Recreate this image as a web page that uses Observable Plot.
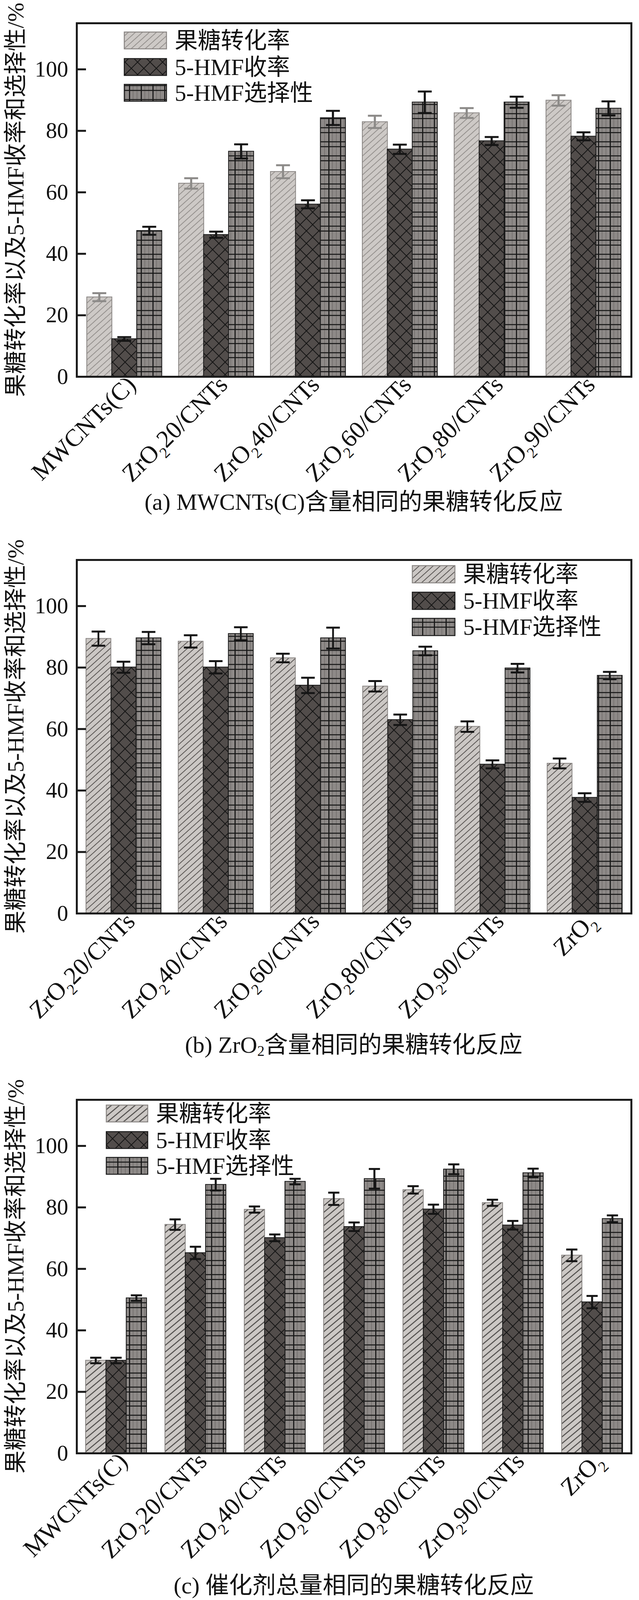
<!DOCTYPE html>
<html><head><meta charset="utf-8">
<script src="https://cdn.jsdelivr.net/npm/d3@7"></script>
<script src="https://cdn.jsdelivr.net/npm/@observablehq/plot@0.6"></script>
<style>
html,body{margin:0;background:#fff;overflow:hidden;}
#root{position:relative;width:1635px;overflow:hidden;font-family:"Liberation Serif","Noto Sans CJK SC",serif;color:#111;}
.panel{position:absolute;left:0;}
.cap{position:absolute;left:0;width:1635px;box-sizing:border-box;padding-left:175px;text-align:center;font-size:60px;line-height:66px;white-space:nowrap;}
.cap sub{font-size:0.62em;vertical-align:-0.22em;line-height:0;}
</style></head>
<body>
<svg width="0" height="0" style="position:absolute">
  <defs>
    <pattern id="convA" width="12" height="12" patternUnits="userSpaceOnUse" patternTransform="rotate(-42)">
      <rect width="12" height="12" fill="#cdc9c6"/><line x1="0" y1="6" x2="12" y2="6" stroke="#8e8a87" stroke-width="1.8"/>
    </pattern>
    <pattern id="convB" width="12" height="12" patternUnits="userSpaceOnUse" patternTransform="rotate(-42)">
      <rect width="12" height="12" fill="#cbc7c4"/><line x1="0" y1="6" x2="12" y2="6" stroke="#5a5654" stroke-width="2"/>
    </pattern>
    <pattern id="convC" width="13" height="13" patternUnits="userSpaceOnUse" patternTransform="rotate(-40)">
      <rect width="13" height="13" fill="#ccc8c5"/><line x1="0" y1="6.5" x2="13" y2="6.5" stroke="#3a3836" stroke-width="2.2"/>
    </pattern>
    <pattern id="yld" width="32" height="32" patternUnits="userSpaceOnUse">
      <rect width="32" height="32" fill="#524d4b"/>
      <path d="M0,0L32,32M32,0L0,32M-16,16L16,48M16,-16L48,16M16,48L48,16M-16,16L16,-16" stroke="#151515" stroke-width="2"/>
    </pattern>
    <pattern id="sel" width="30" height="36" patternUnits="userSpaceOnUse">
      <rect width="30" height="36" fill="#8e8a88"/>
      <line x1="10.5" y1="0" x2="10.5" y2="36" stroke="#6e6a68" stroke-width="1.5"/>
      <line x1="20.5" y1="0" x2="20.5" y2="36" stroke="#6e6a68" stroke-width="1.5"/>
      <line x1="0" y1="4" x2="30" y2="4" stroke="#161616" stroke-width="2.6"/>
      <line x1="0" y1="16.5" x2="30" y2="16.5" stroke="#161616" stroke-width="2.6"/>
      <line x1="1.5" y1="0" x2="1.5" y2="36" stroke="#161616" stroke-width="2.8"/>
    </pattern>
  </defs>
</svg>
<div id="root"></div>
<script>
// ---------- data ----------
const series = ["果糖转化率", "5-HMF收率", "5-HMF选择性"];
const yTicks = [0, 20, 40, 60, 80, 100];

const groupsA = ["MWCNTs(C)", "ZrO₂20/CNTs", "ZrO₂40/CNTs", "ZrO₂60/CNTs", "ZrO₂80/CNTs", "ZrO₂90/CNTs"];
const convA = [25.9, 62.9, 66.7, 82.9, 85.8, 89.9];
const convErrA = [1.3, 1.7, 2.1, 2.0, 1.6, 1.7];
const yieldA = [12.3, 46.2, 56.1, 74.0, 76.7, 78.2];
const yieldErrA = [0.6, 1.0, 1.3, 1.5, 1.3, 1.3];
const selA = [47.5, 73.3, 84.2, 89.3, 89.3, 87.3];
const selErrA = [1.3, 2.3, 2.3, 3.5, 1.8, 2.3];

const groupsB = ["ZrO₂20/CNTs", "ZrO₂40/CNTs", "ZrO₂60/CNTs", "ZrO₂80/CNTs", "ZrO₂90/CNTs", "ZrO₂"];
const convB = [89.4, 88.5, 83.1, 73.9, 60.8, 48.8];
const convErrB = [2.3, 2.0, 1.4, 1.7, 1.7, 1.6];
const yieldB = [80.1, 80.1, 74.2, 63.0, 48.5, 37.7];
const yieldErrB = [1.8, 2.0, 2.5, 1.7, 1.3, 1.4];
const selB = [89.6, 91.0, 89.6, 85.4, 79.8, 77.4];
const selErrB = [2.0, 2.1, 3.4, 1.4, 1.4, 1.2];

const groupsC = ["MWCNTs(C)", "ZrO₂20/CNTs", "ZrO₂40/CNTs", "ZrO₂60/CNTs", "ZrO₂80/CNTs", "ZrO₂90/CNTs", "ZrO₂"];
const convC = [30.2, 74.4, 79.3, 82.8, 85.7, 81.5, 64.4];
const convErrC = [0.9, 1.7, 1.0, 2.0, 1.2, 1.0, 1.9];
const yieldC = [30.2, 65.2, 70.1, 73.7, 79.4, 74.2, 49.2];
const yieldErrC = [0.9, 2.0, 1.1, 1.4, 1.5, 1.4, 2.0];
const selC = [50.5, 87.4, 88.4, 89.3, 92.4, 91.2, 76.3];
const selErrC = [0.9, 1.9, 0.9, 3.2, 1.6, 1.4, 1.1];

const yLabel = "果糖转化率以及5-HMF收率和选择性/%";
const captions = [
  "(a) MWCNTs(C)含量相同的果糖转化反应",
  "(b) ZrO<sub>2</sub>含量相同的果糖转化反应",
  "(c) 催化剂总量相同的果糖转化反应"
];

// ---------- layout ----------
const W = 1635, H = 1300, ML = 196, MR = 20;
const REF_H = 4276;
const k = Math.min(1, (window.innerHeight || REF_H) / REF_H);   // fit the whole figure in the visible window
const FONT = '"Liberation Serif","Noto Sans CJK SC",serif';
const root = document.getElementById("root");
root.style.height = Math.round(REF_H * k) + "px";

function buildRows(groups, vals, errs) {
  const rows = [];
  vals.forEach((arr, i) => groups.forEach((g, j) => rows.push({group: g, series: series[i], i, value: arr[j], err: errs[i][j]})));
  return rows;
}

function subscriptify(textEl, shift) {
  const t = textEl.textContent;
  if (!t.includes("₂")) return;
  const parts = t.split("₂");
  const sel = d3.select(textEl);
  sel.text(null);
  sel.append("tspan").text(parts[0]);
  sel.append("tspan").attr("dy", shift).attr("font-size", "0.62em").text("2");
  sel.append("tspan").attr("dy", -shift).text(parts[1]);
}

function panel(cfg) {
  const {groups, vals, errs, frameTop, frameBottom, pi, po, convFill, errColors, legend, capCenter, caption} = cfg;
  const svgTop = Math.round(frameTop * k) - 60;
  const MT = 60;
  const MB = H - (Math.round(frameBottom * k) - svgTop);
  const rows = buildRows(groups, vals, errs);
  const band = d3.scaleBand().domain(groups).range([ML, W - MR]).paddingInner(pi).paddingOuter(po);
  const b3 = band.bandwidth() / 3;
  const fills = [convFill, "url(#yld)", "url(#sel)"];
  const strokes = ["#8a8684", "#1a1a1a", "#1a1a1a"];
  const marks = [];
  series.forEach((s, i) => {
    const d = rows.filter(r => r.i === i);
    marks.push(Plot.barY(d, {x: "group", y: "value", fill: fills[i], stroke: strokes[i], strokeWidth: 2,
      insetLeft: i * b3, insetRight: (2 - i) * b3}));
  });
  series.forEach((s, i) => {
    const d = rows.filter(r => r.i === i);
    const lw = 5, cw = b3 * 0.55;
    const li = (b3 - lw) / 2, ci = (b3 - cw) / 2;
    marks.push(Plot.barY(d, {x: "group", y1: r => r.value - r.err, y2: r => r.value + r.err, fill: errColors[i],
      insetLeft: i * b3 + li, insetRight: (2 - i) * b3 + li}));
    marks.push(Plot.tickY(d, {x: "group", y: r => r.value + r.err, stroke: errColors[i], strokeWidth: 5,
      insetLeft: i * b3 + ci, insetRight: (2 - i) * b3 + ci}));
    marks.push(Plot.tickY(d, {x: "group", y: r => r.value - r.err, stroke: errColors[i], strokeWidth: 5,
      insetLeft: i * b3 + ci, insetRight: (2 - i) * b3 + ci}));
  });
  marks.push(Plot.gridY(yTicks, {stroke: "#1a1a1a", strokeOpacity: 1, strokeWidth: 5, insetRight: (W - ML - MR) - 24}));
  marks.push(Plot.axisY({ticks: yTicks, tickSize: 0, tickPadding: 22, fontSize: 57, label: null}));
  marks.push(Plot.axisX({tickSize: 0, tickRotate: -45, tickPadding: 10, dx: 18, fontSize: 63, label: null}));
  marks.push(Plot.frame({stroke: "#1a1a1a", strokeWidth: 5}));

  const plot = Plot.plot({
    width: W, height: H, marginLeft: ML, marginRight: MR, marginTop: MT, marginBottom: MB,
    style: {fontFamily: FONT, fontSize: "57px", color: "#111", background: "transparent", overflow: "visible"},
    x: {type: "band", domain: groups, paddingInner: pi, paddingOuter: po, align: 0.5},
    y: {domain: [0, 115]},
    marks
  });
  const wrap = document.createElement("div");
  wrap.className = "panel";
  wrap.style.top = svgTop + "px";
  wrap.appendChild(plot);
  root.appendChild(wrap);

  const svg = d3.select(plot);
  svg.selectAll('g[aria-label="x-axis tick label"] text').each(function () { subscriptify(this, 17); });

  // y title
  svg.append("text")
    .attr("transform", `translate(40,${(MT + H - MB) / 2}) rotate(-90)`)
    .attr("text-anchor", "middle").attr("dominant-baseline", "central")
    .attr("font-family", FONT).attr("font-size", 59).attr("fill", "#111")
    .text(yLabel);

  // legend
  const lg = svg.append("g").attr("font-family", FONT).attr("font-size", 59).attr("fill", "#111");
  series.forEach((s, i) => {
    const y = Math.round(legend.y[i] * k) - svgTop;
    const h = legend.h * k;
    lg.append("rect").attr("x", legend.x).attr("y", y).attr("width", legend.w).attr("height", h)
      .attr("fill", fills[i]).attr("stroke", strokes[i]).attr("stroke-width", 2.5);
    lg.append("text").attr("x", legend.x + legend.w + 21).attr("y", y + h / 2)
      .attr("text-anchor", "start").attr("dominant-baseline", "central").text(s);
  });

  const cap = document.createElement("div");
  cap.className = "cap";
  cap.style.top = Math.round(capCenter * k - 33) + "px";
  cap.innerHTML = caption;
  root.appendChild(cap);
}

panel({groups: groupsA, vals: [convA, yieldA, selA], errs: [convErrA, yieldErrA, selErrA],
  frameTop: 62, frameBottom: 1006, pi: 0.185, po: 0.11, convFill: "url(#convA)", errColors: ["#8c8a88", "#151515", "#151515"],
  legend: {x: 318, y: [86, 157, 226], w: 108, h: 45}, capCenter: 1341, caption: captions[0]});

panel({groups: groupsB, vals: [convB, yieldB, selB], errs: [convErrB, yieldErrB, selErrB],
  frameTop: 1496, frameBottom: 2441, pi: 0.187, po: 0.09, convFill: "url(#convB)", errColors: ["#151515", "#151515", "#151515"],
  legend: {x: 1055, y: [1512, 1583, 1653], w: 109, h: 46}, capCenter: 2793, caption: captions[1]});

panel({groups: groupsC, vals: [convC, yieldC, selC], errs: [convErrC, yieldErrC, selErrC],
  frameTop: 2939, frameBottom: 3883, pi: 0.232, po: 0.11, convFill: "url(#convC)", errColors: ["#151515", "#151515", "#151515"],
  legend: {x: 272, y: [2953, 3024, 3093], w: 106, h: 45}, capCenter: 4237, caption: captions[2]});
</script>
</body></html>
